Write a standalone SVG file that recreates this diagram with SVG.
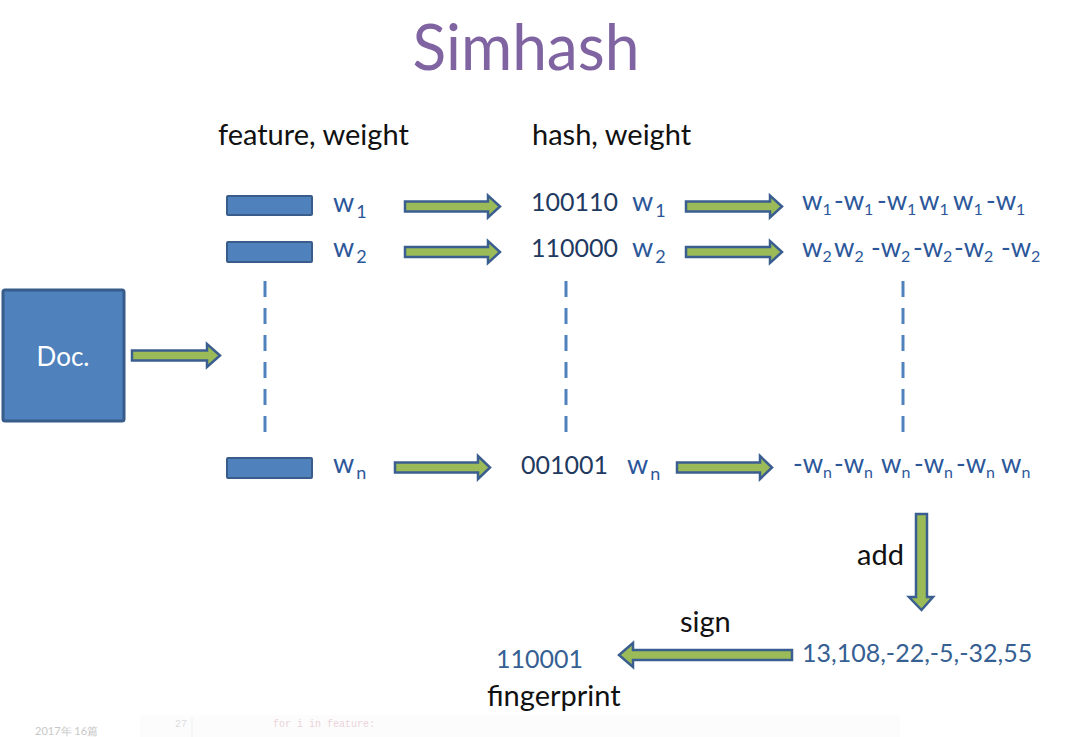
<svg xmlns="http://www.w3.org/2000/svg" width="1085" height="737" viewBox="0 0 1085 737">
<style>
  .t { font-family: Lato, "Liberation Sans", Arial, sans-serif; }
  .blk { fill: #111; font-size: 29px; }
  .num { fill: #1F3A60; font-size: 25px; }
  .w { fill: #2B579A; font-size: 27px; }
  .v { fill: #2B579A; font-size: 26px; }
  .sub { font-size: 18px; }
  .vs { font-size: 16px; }
  .bar { fill: #4F81BD; stroke: #385D8A; stroke-width: 2; }
  .arr { fill: #9BBB59; stroke: #3B5E91; stroke-width: 2.5; stroke-linejoin: miter; }
  .dash { stroke: #4F81BD; stroke-width: 3; stroke-dasharray: 16 11; fill: none; }
  .res { fill: #366092; font-size: 25px; }
</style>
<rect x="0" y="0" width="1085" height="737" fill="#FFFFFF"/>
<!-- faint background artifacts -->
<rect x="140" y="715" width="760" height="22" fill="#FCFCFC"/>
<text x="35" y="735" class="t" font-size="11" fill="#C8C8C8">2017年 16篇</text>
<line x1="192" y1="718" x2="192" y2="737" stroke="#EEEEEE" stroke-width="1"/>
<text x="175" y="727" font-family="'Liberation Mono', monospace" font-size="10" fill="#DDDDDD">27</text>
<text x="273" y="727" font-family="'Liberation Mono', monospace" font-size="10" fill="#EBD3DA">for i in feature:</text>

<text x="526" y="70" class="t" font-size="63" fill="#8064A2" text-anchor="middle" textLength="227" lengthAdjust="spacingAndGlyphs">Simhash</text>

<text x="218" y="145" class="t blk">feature, weight</text>
<text x="532" y="145" class="t blk">hash, weight</text>

<g id="doc">
  <rect x="3" y="290" width="121" height="131" rx="2" fill="#4F81BD" stroke="#385D8A" stroke-width="3"/>
  <text x="63" y="366" class="t" font-size="26" fill="#FFFFFF" text-anchor="middle">Doc.</text>
</g>

<g id="feature1">
  <rect class="bar" x="227" y="196" width="85" height="19" rx="1"/>
  <text x="333" y="212" class="t w">w<tspan class="sub" dy="6" dx="2">1</tspan></text>
</g>
<g id="feature2">
  <rect class="bar" x="227" y="242" width="85" height="20" rx="1"/>
  <text x="333" y="257" class="t w">w<tspan class="sub" dy="6" dx="2">2</tspan></text>
</g>
<g id="featureN">
  <rect class="bar" x="227" y="458" width="85" height="20" rx="1"/>
  <text x="333" y="473" class="t w">w<tspan class="sub" dy="6" dx="2">n</tspan></text>
</g>

<g id="hash1">
  <text x="531" y="211" class="t num">100110</text>
  <text x="632" y="211" class="t w">w<tspan class="sub" dy="6" dx="2">1</tspan></text>
</g>
<g id="hash2">
  <text x="531" y="257" class="t num">110000</text>
  <text x="632" y="257" class="t w">w<tspan class="sub" dy="6" dx="2">2</tspan></text>
</g>
<g id="hashN">
  <text x="521" y="474" class="t num">001001</text>
  <text x="627" y="474" class="t w">w<tspan class="sub" dy="6" dx="2">n</tspan></text>
</g>

<g id="vec1" class="t v">
  <text x="802" y="210">w<tspan class="vs" dy="5">1</tspan></text>
  <text x="834" y="210">-w<tspan class="vs" dy="5">1</tspan></text>
  <text x="877" y="210">-w<tspan class="vs" dy="5">1</tspan></text>
  <text x="919" y="210">w<tspan class="vs" dy="5">1</tspan></text>
  <text x="953" y="210">w<tspan class="vs" dy="5">1</tspan></text>
  <text x="986" y="210">-w<tspan class="vs" dy="5">1</tspan></text>
</g>
<g id="vec2" class="t v">
  <text x="802" y="257">w<tspan class="vs" dy="5">2</tspan></text>
  <text x="834" y="257">w<tspan class="vs" dy="5">2</tspan></text>
  <text x="871" y="257">-w<tspan class="vs" dy="5">2</tspan></text>
  <text x="913" y="257">-w<tspan class="vs" dy="5">2</tspan></text>
  <text x="954" y="257">-w<tspan class="vs" dy="5">2</tspan></text>
  <text x="1001" y="257">-w<tspan class="vs" dy="5">2</tspan></text>
</g>
<g id="vecN" class="t v">
  <text x="793" y="473">-w<tspan class="vs" dy="5">n</tspan></text>
  <text x="834" y="473">-w<tspan class="vs" dy="5">n</tspan></text>
  <text x="881" y="473">w<tspan class="vs" dy="5">n</tspan></text>
  <text x="914" y="473">-w<tspan class="vs" dy="5">n</tspan></text>
  <text x="956" y="473">-w<tspan class="vs" dy="5">n</tspan></text>
  <text x="1001" y="473">w<tspan class="vs" dy="5">n</tspan></text>
</g>

<g id="sum">
  <text x="802" y="662" class="t res">13,108,-22,-5,-32,55</text>
</g>
<g id="fingerprint">
  <text x="496" y="668" class="t res">110001</text>
  <text x="487" y="706" class="t blk" font-size="26">fingerprint</text>
</g>

<g id="connectors">
  <polygon class="arr" points="132,350.5 207,350.5 207,344 220,355.5 207,367 207,360.5 132,360.5"/>
  <polygon class="arr" points="405,201.5 488,201.5 488,195.5 500,206.5 488,217.5 488,211.5 405,211.5"/>
  <polygon class="arr" points="405,247 488,247 488,241 500,252 488,263 488,257 405,257"/>
  <polygon class="arr" points="395,462.5 478,462.5 478,456 490,467.5 478,479 478,472.5 395,472.5"/>
  <polygon class="arr" points="686,201.5 770,201.5 770,195.5 782,206.5 770,217.5 770,211.5 686,211.5"/>
  <polygon class="arr" points="686,247 770,247 770,241 782,252 770,263 770,257 686,257"/>
  <polygon class="arr" points="677,462.5 760,462.5 760,456 772,467.5 760,479 760,472.5 677,472.5"/>
  <polygon class="arr" points="916,514 927,514 927,597 933,597 921.5,610 909,597 916,597"/>
  <polygon class="arr" points="792,650 633,650 633,643 619,655 633,667 633,660 792,660"/>
  <line class="dash" x1="265" y1="281" x2="265" y2="441"/>
  <line class="dash" x1="566" y1="281" x2="566" y2="441"/>
  <line class="dash" x1="903" y1="281" x2="903" y2="441"/>
  <text x="857" y="565" class="t blk" font-size="26">add</text>
  <text x="680" y="632" class="t blk" font-size="26">sign</text>
</g>
</svg>
